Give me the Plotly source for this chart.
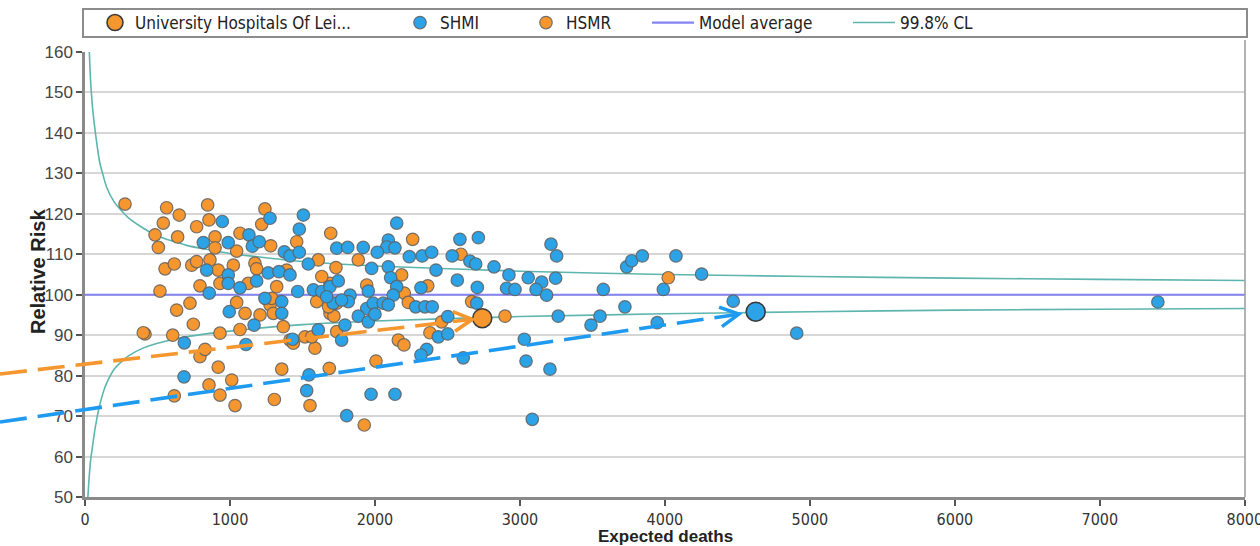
import math
import plotly.graph_objects as go

# ---------------- data ----------------
hsmr_expected = [563, 650, 846, 855, 540, 770, 483, 506, 639, 897, 897, 1241, 1219, 1069,
                 1046, 1281, 1460, 1695, 1609, 1731, 552, 616, 736, 770, 862, 919, 1023,
                 1172, 1184, 1322, 1391, 793, 517, 724, 1046, 931, 1126, 1276, 632, 1598,
                 1690, 1633, 1736, 2260, 1885, 2593, 2184, 1943, 2364, 2202, 2230, 2667,
                 2897, 747, 414, 402, 605, 931, 1069, 793, 828, 919, 1357, 1685, 1012, 855,
                 931, 616, 1035, 1306, 1552, 1586, 1414, 1437, 1368, 1104, 1207, 1299, 1690,
                 1717, 1736, 1517, 1564, 2460, 2379, 2161, 2200, 2007, 1926, 276, 1288,
                 1680, 4023]
hsmr_rr = [121.5, 119.7, 122.2, 118.5, 117.7, 116.8, 114.8, 111.7, 114.3, 114.3, 111.6,
           121.2, 117.4, 115.2, 110.8, 112.1, 113.1, 115.2, 108.6, 106.7, 106.4, 107.6,
           107.3, 108.2, 108.6, 106.1, 107.3, 107.8, 106.4, 102.0, 106.1, 102.2, 100.9,
           97.9, 98.1, 102.8, 102.8, 97.5, 96.2, 98.3, 102.8, 104.5, 97.9, 113.7, 108.6,
           110.0, 104.9, 102.4, 102.2, 100.4, 98.1, 98.3, 94.7, 92.7, 90.3, 90.6, 90.0,
           90.5, 91.4, 84.7, 86.5, 82.1, 81.6, 81.8, 78.9, 77.7, 75.2, 75.0, 72.6, 74.1,
           72.6, 86.8, 88.8, 88.0, 92.1, 95.4, 95.0, 95.4, 95.4, 94.7, 90.9, 89.6, 89.6,
           93.3, 90.6, 88.8, 87.6, 83.6, 67.8, 122.4, 99.1, 97.0, 104.2]

shmi_expected = [947, 1276, 1506, 1478, 816, 988, 1131, 1154, 1202, 1375, 1414, 1478, 1540,
                 1736, 839, 988, 988, 1069, 1184, 1264, 1338, 1414, 1467, 1575, 1633, 1690,
                 1747, 1712, 1667, 857, 1241, 1357, 995, 2150, 2092, 2081, 2138, 1919, 1812,
                 2016, 2237, 2326, 2391, 2586, 2713, 2533, 2655, 2695, 2821, 3214, 3253,
                 1977, 2092, 2108, 2421, 2568, 2706, 2924, 3057, 3150, 3246, 2908, 2966,
                 3111, 3184, 2317, 2150, 2126, 1954, 1828, 1816, 1943, 1988, 2057, 2092,
                 2281, 2345, 2395, 2702, 1166, 1357, 1609, 1770, 685, 1110, 1432, 683,
                 1545, 1529, 1805, 1793, 1885, 1954, 2000, 2502, 2437, 2502, 2357, 2317,
                 2609, 3030, 3042, 3207, 1973, 2138, 3085, 3264, 3736, 3771, 3844, 4076,
                 4253, 3575, 3989, 3724, 3552, 3490, 4471, 3947, 4909, 7400, 1770]
shmi_rr = [118.1, 118.9, 119.7, 116.2, 112.9, 112.9, 114.8, 112.0, 113.1, 110.6, 109.6,
           110.5, 107.6, 111.5, 106.1, 104.9, 102.8, 101.7, 103.4, 105.4, 105.7, 104.9,
           100.8, 101.2, 100.8, 102.0, 103.4, 97.9, 99.5, 100.4, 99.1, 98.3, 95.8, 117.7,
           113.5, 111.8, 111.6, 111.7, 111.7, 110.5, 109.4, 109.6, 110.5, 113.7, 114.1,
           109.6, 108.3, 107.6, 106.9, 112.5, 109.6, 106.5, 106.9, 104.2, 106.1, 103.6,
           101.8, 104.9, 104.2, 103.1, 104.1, 101.6, 101.3, 101.3, 99.9, 101.7, 102.0,
           99.9, 100.9, 99.9, 98.3, 96.6, 97.9, 97.9, 97.5, 97.0, 97.0, 97.0, 97.9, 92.5,
           95.4, 91.3, 88.8, 88.1, 87.7, 89.0, 79.7, 80.2, 76.3, 70.1, 92.5, 94.7, 93.3,
           95.2, 94.6, 89.6, 90.3, 86.5, 85.1, 84.4, 89.0, 83.6, 81.6, 75.4, 75.4, 69.2,
           94.7, 106.9, 108.4, 109.6, 109.6, 105.1, 101.3, 101.3, 97.0, 94.7, 92.5, 98.4,
           93.1, 90.5, 98.2, 98.7]

trust_name = "University Hospitals Of Lei..."
trust_expected = [2740, 4626]      # HSMR point, SHMI point
trust_rr = [94.2, 95.8]

cl_upper_expected = [25, 30, 35, 40, 50, 60, 70, 85, 100, 125, 150, 200, 250, 300, 400, 500,
                     700, 1000, 1500, 2000, 3000, 4000, 5000, 6000, 7000, 8000]
cl_upper = [166, 160, 155.5, 152, 147, 143.5, 140.5, 136.5, 133, 129.5, 126.5, 123, 120.8,
            119, 116.5, 114.5, 112.2, 110.2, 108.2, 107.1, 105.8, 105.0, 104.5, 104.1,
            103.8, 103.5]
cl_lower_expected = [20, 25, 30, 35, 40, 50, 60, 70, 85, 100, 125, 150, 200, 250, 300, 400,
                     500, 700, 1000, 1500, 2000, 3000, 4000, 5000, 6000, 7000, 8000]
cl_lower = [50, 53, 55.5, 57.7, 59.5, 62, 64.7, 67, 70, 72.5, 75.8, 78.2, 81.5, 83.4, 84.9,
            86.8, 88.0, 89.6, 91.0, 92.6, 93.5, 94.6, 95.3, 95.8, 96.2, 96.4, 96.6]

model_average = 100
x_range = [0, 8001]
y_range = [50, 160]
x_ticks = [0, 1000, 2000, 3000, 4000, 5000, 6000, 7000, 8000]
y_ticks = [50, 60, 70, 80, 90, 100, 110, 120, 130, 140, 150, 160]

# ---------------- styles ----------------
ORANGE = "#F5962E"
BLUE = "#2BA3E6"
OUTLINE = "rgba(95,95,95,0.85)"
NARROW = "Liberation Sans Narrow, DejaVu Sans Condensed, Arial Narrow, Liberation Sans, sans-serif"
SANS = "Liberation Sans, Arial, sans-serif"

L, T, W, H = 85, 52, 1160, 445     # plot area in pixels
FIG_W, FIG_H = 1260, 546


def to_px(e, rr):
    return (L + (e - x_range[0]) / (x_range[1] - x_range[0]) * W,
            T + (y_range[1] - rr) / (y_range[1] - y_range[0]) * H)


def px_to_paper(px, py):
    return ((px - L) / W, (T + H - py) / H)


fig = go.Figure()

fig.add_trace(go.Scatter(
    x=cl_lower_expected, y=cl_lower,
    mode="lines", line=dict(color="#5DB5AE", width=1.6, shape="spline", smoothing=0.5),
    name="99.8% CL", legend="legend5", legendgroup="cl", showlegend=True, hoverinfo="skip"))
fig.add_trace(go.Scatter(
    x=cl_upper_expected, y=cl_upper, mode="lines",
    line=dict(color="#5DB5AE", width=1.6, shape="spline", smoothing=0.5),
    name="99.8% CL", legend="legend5", legendgroup="cl", showlegend=False, hoverinfo="skip"))
fig.add_trace(go.Scatter(
    x=[x_ticks[0], x_ticks[-1]], y=[model_average, model_average], mode="lines",
    line=dict(color="#8484F2", width=2.2), name="Model average", legend="legend4"))

fig.add_trace(go.Scatter(
    x=hsmr_expected, y=hsmr_rr, mode="markers", name="HSMR", legend="legend3",
    marker=dict(size=12.5, color=ORANGE, line=dict(color=OUTLINE, width=1.2))))
fig.add_trace(go.Scatter(
    x=shmi_expected, y=shmi_rr, mode="markers", name="SHMI", legend="legend2",
    marker=dict(size=12.5, color=BLUE, line=dict(color=OUTLINE, width=1.2))))
fig.add_trace(go.Scatter(
    x=trust_expected, y=trust_rr, mode="markers", name=trust_name, legend="legend",
    marker=dict(size=19, color=[ORANGE, BLUE], line=dict(color="#3a3a3a", width=1.6))))

# ---------------- dashed arrows pointing to the trust ----------------
shapes = []
arrow_tails_px = [(0, 374), (0, 422)]
arrow_gap_px = [10, 17]
arrow_colors = [ORANGE, "#1E9BF0"]
for i in range(2):
    tx, ty = arrow_tails_px[i]
    hx, hy = to_px(trust_expected[i], trust_rr[i])
    dx, dy = hx - tx, hy - ty
    n = math.hypot(dx, dy)
    ux, uy = dx / n, dy / n
    tipx, tipy = hx - ux * arrow_gap_px[i], hy - uy * arrow_gap_px[i]
    p0 = px_to_paper(tx, ty)
    p1 = px_to_paper(tipx - ux * 2, tipy - uy * 2)
    shapes.append(dict(type="line", xref="paper", yref="paper",
                       x0=p0[0], y0=p0[1], x1=p1[0], y1=p1[1],
                       line=dict(color=arrow_colors[i], width=3.6, dash="27px,11px")))
    arm, ang = 21, math.radians(28)
    pts = []
    for s in (1, -1):
        bx = -ux * math.cos(ang) + s * uy * math.sin(ang)
        by = -uy * math.cos(ang) - s * ux * math.sin(ang)
        pts.append(px_to_paper(tipx + bx * arm, tipy + by * arm))
    tp = px_to_paper(tipx, tipy)
    path = "M %.5f,%.5f L %.5f,%.5f L %.5f,%.5f" % (pts[0][0], pts[0][1], tp[0], tp[1],
                                                    pts[1][0], pts[1][1])
    shapes.append(dict(type="path", xref="paper", yref="paper", path=path,
                       line=dict(color=arrow_colors[i], width=3.6)))

# legend frame
f0 = px_to_paper(83, 9)
f1 = px_to_paper(1247, 37)
shapes.append(dict(type="rect", xref="paper", yref="paper", x0=f0[0], y0=f0[1], x1=f1[0],
                   y1=f1[1], line=dict(color="#8c8c8c", width=2), fillcolor="white",
                   layer="below"))
# right-hand frame line of the plot area
shapes.append(dict(type="line", xref="paper", yref="paper", x0=1, x1=1, y0=0,
                   y1=px_to_paper(0, 40)[1], line=dict(color="#9a9a9a", width=1.5)))

# ---------------- legends (one per entry, to place them like the original) ----------------
legend_left_px = {"legend": 95, "legend2": 400, "legend3": 526, "legend4": 647, "legend5": 848}
legend_item_w = {"legend": 30, "legend2": 30, "legend3": 30, "legend4": 42, "legend5": 42}
legends = {}
for key, lp in legend_left_px.items():
    legends[key] = dict(x=lp / FIG_W, y=1 - 23 / FIG_H, xref="container", yref="container",
                        xanchor="left", yanchor="middle",
                        orientation="h", bgcolor="rgba(0,0,0,0)", borderwidth=0,
                        itemwidth=legend_item_w[key],
                        font=dict(family=NARROW, size=17, color="#222222"))

fig.update_layout(
    width=FIG_W, height=FIG_H,
    margin=dict(l=L, r=FIG_W - L - W, t=T, b=FIG_H - T - H, autoexpand=False),
    paper_bgcolor="white", plot_bgcolor="white",
    showlegend=True,
    shapes=shapes,
    **legends,
    annotations=[
        dict(text="<b>Relative Risk</b>", xref="paper", yref="paper",
             x=px_to_paper(38, 0)[0], y=px_to_paper(0, 272)[1], textangle=-90,
             showarrow=False, xanchor="center", yanchor="middle",
             font=dict(family=SANS, size=20, color="#222222")),
        dict(text="<b>Expected deaths</b>", xref="paper", yref="paper",
             x=0.5, y=px_to_paper(0, 536)[1], showarrow=False, xanchor="center",
             yanchor="middle", font=dict(family=SANS, size=17, color="#222222")),
    ],
    xaxis=dict(range=x_range, tickvals=x_ticks, ticks="outside", ticklen=6, tickwidth=1.5,
               tickcolor="#555555", showgrid=False, zeroline=False, showline=True,
               linecolor="#8a8a8a", linewidth=2.5, mirror=False, automargin=False,
               ticklabeloverflow="allow",
               tickfont=dict(family=NARROW, size=16, color="#333333")),
    yaxis=dict(range=y_range, tickvals=y_ticks, ticks="outside", ticklen=6, tickwidth=1.5,
               tickcolor="#555555", showgrid=True, gridcolor="#d6d6d6", gridwidth=1.5,
               zeroline=False, showline=True, linecolor="#8a8a8a", linewidth=2.5,
               mirror=False, automargin=False,
               tickfont=dict(family=SANS, size=17, color="#444444")),
)

fig.write_html("out.html", config={"displayModeBar": False},
               post_script="document.body.style.margin='0px';"
                           "document.body.style.overflow='hidden';")
